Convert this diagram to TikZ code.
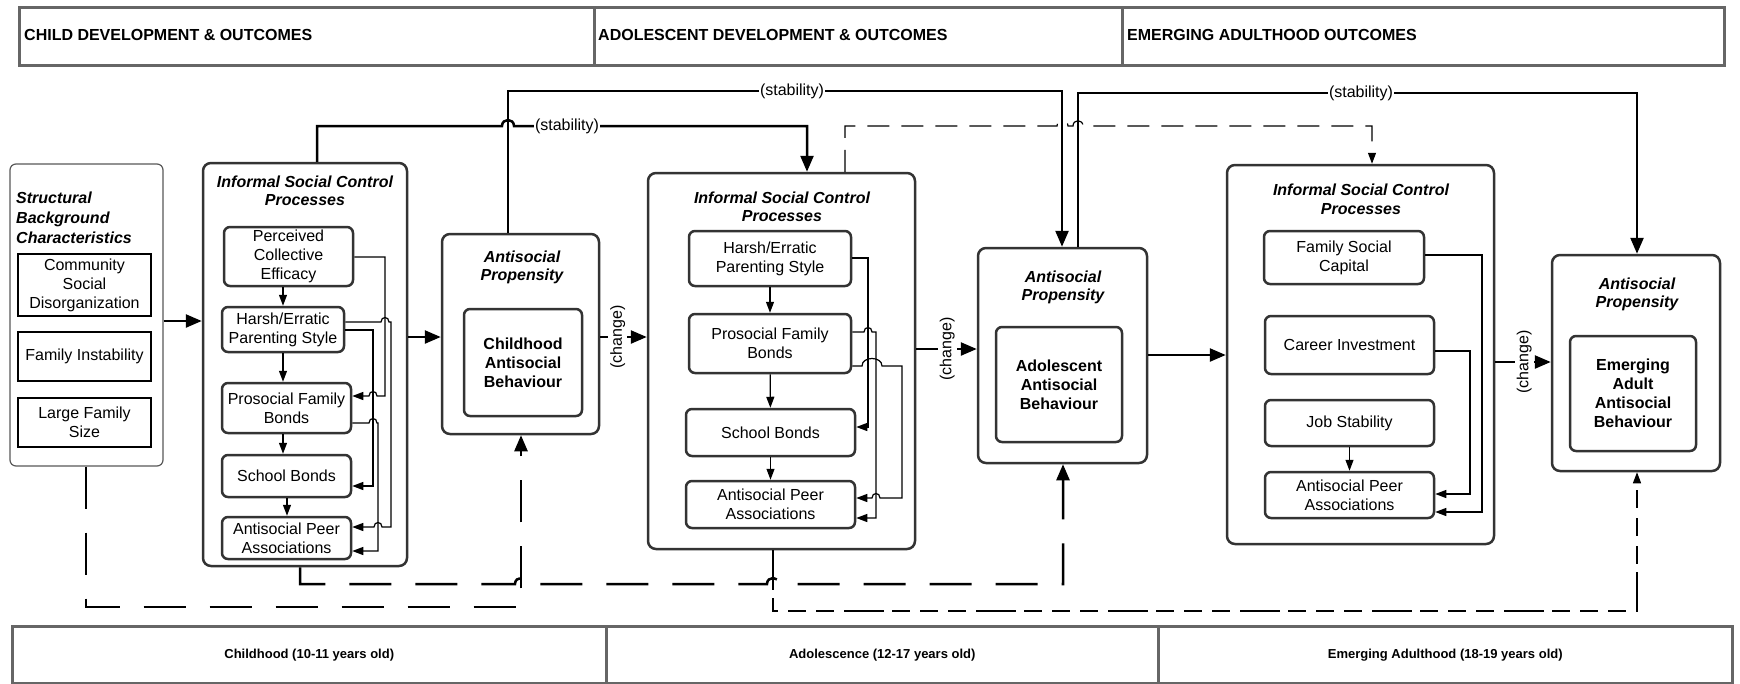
\documentclass[tikz,border=0pt]{standalone}
\usepackage{fontspec}
\setmainfont{Liberation Sans}
\usetikzlibrary{arrows.meta}
\definecolor{bx}{HTML}{333333}
\definecolor{hdr}{HTML}{666666}
\newcommand\myfs{\fontsize{16}{19}\selectfont}
\newcommand\tfs{\fontsize{16}{18.5}\selectfont\bfseries\itshape}
\newcommand\hfs{\fontsize{16}{19}\selectfont\bfseries}
\newcommand\ffs{\fontsize{13}{16}\selectfont\bfseries}
\begin{document}
\begin{tikzpicture}[x=1pt,y=-1pt,
  cell/.style={draw=hdr, line width=2.5pt, inner sep=0pt, anchor=north west},
  outer/.style={draw=bx, line width=2.5pt, rounded corners=8pt, inner sep=0pt},
  inner/.style={draw=bx, line width=2.5pt, rounded corners=6pt, inner sep=0pt, align=center, font=\myfs},
  sbox/.style={draw=black, line width=2.5pt, inner sep=0pt, align=center, font=\myfs},
  ttl/.style={align=center, font=\tfs, inner sep=0pt},
  thk/.style={line width=2.5pt, -{Triangle[length=16pt,width=13pt]}},
  thn/.style={line width=1.2pt, -{Triangle[length=11pt,width=8pt]}},
  dsh/.style={line width=2.5pt, dash pattern=on 42pt off 24pt, -{Triangle[length=16pt,width=13pt]}},
  dshn/.style={line width=1.2pt, dash pattern=on 22pt off 12pt, -{Triangle[length=11pt,width=8pt]}},
  lbl/.style={fill=white, font=\myfs, inner sep=1pt},
]
\fill[white] (0,0) rectangle (1740,683);
\useasboundingbox (0,0) rectangle (1740,683);

% header
\node[cell, minimum width=575pt, minimum height=58pt] (h1) at (18,6) {};
\node[cell, minimum width=528pt, minimum height=58pt] (h2) at (593,6) {};
\node[cell, minimum width=602pt, minimum height=58pt] (h3) at (1121,6) {};
\node[font=\hfs, anchor=west, inner sep=0pt] (h1t) at (24,35) {CHILD DEVELOPMENT \& OUTCOMES};
\node[font=\hfs, anchor=west, inner sep=0pt] (h2t) at (598,35) {ADOLESCENT DEVELOPMENT \& OUTCOMES};
\node[font=\hfs, anchor=west, inner sep=0pt] (h3t) at (1127,35) {EMERGING ADULTHOOD OUTCOMES};

% footer
\node[cell, minimum width=594pt, minimum height=57pt, font=\ffs] (f1) at (11,625) {Childhood (10-11 years old)};
\node[cell, minimum width=552pt, minimum height=57pt, font=\ffs] (f2) at (605,625) {Adolescence (12-17 years old)};
\node[cell, minimum width=574pt, minimum height=57pt, font=\ffs] (f3) at (1157,625) {Emerging Adulthood (18-19 years old)};

% structural
\node[draw=gray!70!black, line width=1.2pt, rounded corners=6pt, inner sep=0pt, minimum width=153pt, minimum height=302pt] (struct) at (86.5,315) {};
\node[ttl, anchor=west, align=left, font=\fontsize{16}{20}\selectfont\bfseries\itshape] (structt) at (16,218) {Structural\\Background\\Characteristics};
\node[sbox, minimum width=133pt, minimum height=62pt] (comm) at (84.5,285) {Community\\Social\\Disorganization};
\node[sbox, minimum width=133pt, minimum height=49pt] (famins) at (84.5,356.5) {Family Instability};
\node[sbox, minimum width=133pt, minimum height=49pt] (large) at (84.5,422.5) {Large Family\\Size};

% child ISC
\node[outer, minimum width=204pt, minimum height=403pt] (isc1) at (305,364.5) {};
\node[ttl] (isc1t) at (305,191) {Informal Social Control\\Processes};
\node[inner, minimum width=129pt, minimum height=59pt] (pce) at (288.5,256.5) {Perceived\\Collective\\Efficacy};
\node[inner, minimum width=122pt, minimum height=45pt] (hp1) at (283,329.5) {Harsh/Erratic\\Parenting Style};
\node[inner, minimum width=129pt, minimum height=50pt] (pfb1) at (286.5,408) {Prosocial Family\\Bonds};
\node[inner, minimum width=129pt, minimum height=42pt] (sb1) at (286.5,476) {School Bonds};
\node[inner, minimum width=129pt, minimum height=42pt] (apa1) at (286.5,538) {Antisocial Peer\\Associations};

% child AP
\node[outer, minimum width=157pt, minimum height=200pt] (ap1) at (520.5,334) {};
\node[ttl] (ap1t) at (522,267.5) {Antisocial\\Propensity};
\node[inner, font=\myfs\bfseries, minimum width=118pt, minimum height=107pt] (cab) at (523,362.5) {Childhood\\Antisocial\\Behaviour};

% adolescent ISC
\node[outer, minimum width=267pt, minimum height=376pt] (isc2) at (781.5,361) {};
\node[ttl] (isc2t) at (782,207) {Informal Social Control\\Processes};
\node[inner, minimum width=162pt, minimum height=55pt] (hp2) at (770,258.5) {Harsh/Erratic\\Parenting Style};
\node[inner, minimum width=162pt, minimum height=59pt] (pfb2) at (770,343.5) {Prosocial Family\\Bonds};
\node[inner, minimum width=169pt, minimum height=47pt] (sb2) at (770.5,432.5) {School Bonds};
\node[inner, minimum width=169pt, minimum height=47pt] (apa2) at (770.5,504.5) {Antisocial Peer\\Associations};

% adolescent AP
\node[outer, minimum width=169pt, minimum height=215pt] (ap2) at (1062.5,355.5) {};
\node[ttl] (ap2t) at (1063,287.5) {Antisocial\\Propensity};
\node[inner, font=\myfs\bfseries, minimum width=126pt, minimum height=115pt] (aab) at (1059,384.5) {Adolescent\\Antisocial\\Behaviour};

% emerging ISC
\node[outer, minimum width=267pt, minimum height=379pt] (isc3) at (1360.5,354.5) {};
\node[ttl] (isc3t) at (1361,199.5) {Informal Social Control\\Processes};
\node[inner, minimum width=160pt, minimum height=53pt] (fsc) at (1344,257.5) {Family Social\\Capital};
\node[inner, minimum width=169pt, minimum height=58pt] (ci) at (1349.5,345) {Career Investment};
\node[inner, minimum width=169pt, minimum height=46pt] (js) at (1349.5,423) {Job Stability};
\node[inner, minimum width=169pt, minimum height=46pt] (apa3) at (1349.5,495) {Antisocial Peer\\Associations};

% emerging AP
\node[outer, minimum width=168pt, minimum height=216pt] (ap3) at (1636,363) {};
\node[ttl] (ap3t) at (1637,294.5) {Antisocial\\Propensity};
\node[inner, font=\myfs\bfseries, minimum width=126pt, minimum height=115pt] (eaab) at (1633,393.5) {Emerging\\Adult\\Antisocial\\Behaviour};

% main flow
\draw[thk] (struct.east |- 0,321) -- (isc1.west |- 0,321);
\draw[thk] (isc1.east |- 0,337) -- (ap1.west |- 0,337);
\draw[thk] (ap1.east |- 0,337) -- node[lbl, rotate=90, pos=0.375, inner sep=2pt] (c1) {(change)} (isc2.west |- 0,337);
\draw[thk] (isc2.east |- 0,349) -- node[lbl, rotate=90, pos=0.51, inner sep=2pt] (c2) {(change)} (ap2.west |- 0,349);
\draw[thk] (ap2.east |- 0,355) -- (isc3.west |- 0,355);
\draw[thk] (isc3.east |- 0,362) -- node[lbl, rotate=90, pos=0.52, inner sep=2pt] (c3) {(change)} (ap3.west |- 0,362);

% child ISC internal
\draw[thn] (pce.south -| 283,0) -- (hp1.north -| 283,0);
\draw[thn] (hp1.south -| 283,0) -- (pfb1.north -| 283,0);
\draw[thn] (pfb1.south -| 283,0) -- (sb1.north -| 283,0);
\draw[thn] (sb1.south -| 287,0) -- (apa1.north -| 287,0);
\draw[thn] (pce.east |- 0,257) -- (385,257) -- (385,396) -- (377,396) .. controls (377,390) and (369,390) .. (369,396) -- (pfb1.east |- 0,396);
\draw[thn] (hp1.east |- 0,322) -- (381,322) .. controls (381,316) and (389,316) .. (389,322) -- (391,322) -- (391,527) -- (382,527) .. controls (382,521) and (374,521) .. (374,527) -- (apa1.east |- 0,527);
\draw[thn] (hp1.east |- 0,330) -- (373,330) -- (373,486) -- (sb1.east |- 0,486);
\draw[thn] (pfb1.east |- 0,423) -- (369,423) .. controls (369,417) and (377,417) .. (377,423) -- (378,423) -- (378,551) -- (apa1.east |- 0,551);

% adolescent ISC internal
\draw[thn] (hp2) -- (pfb2);
\draw[thn] (pfb2) -- (sb2);
\draw[thn] (sb2) -- (apa2);
\draw[thn] (hp2.east |- 0,258) -- (868,258) -- (868,427) -- (sb2.east |- 0,427);
\draw[thn] (pfb2.east |- 0,332) -- (864,332) .. controls (864,326) and (872,326) .. (872,332) -- (876,332) -- (876,518) -- (apa2.east |- 0,518);
\draw[thn] (pfb2.east |- 0,366) -- (862,366) .. controls (862,356) and (882,356) .. (882,366) -- (902,366) -- (902,498) -- (880,498) .. controls (880,492) and (872,492) .. (872,498) -- (apa2.east |- 0,498);

% emerging ISC internal
\draw[thn] (js) -- (apa3);
\draw[thn] (fsc.east |- 0,255) -- (1482,255) -- (1482,512) -- (apa3.east |- 0,512);
\draw[thn] (ci.east |- 0,351) -- (1470,351) -- (1470,494) -- (apa3.east |- 0,494);

% stability
\draw[thk] (isc1.north -| 317,0) -- (317,126) -- (502,126) .. controls (502,118) and (514,118) .. (514,126) -- (807,126) -- (isc2.north -| 807,0);
\node[lbl] (s1) at (567,126) {(stability)};
\draw[thk] (ap1.north -| 508,0) -- (508,91) -- (1062,91) -- (ap2.north -| 1062,0);
\node[lbl] (s2) at (792,91) {(stability)};
\draw[thk] (ap2.north -| 1078,0) -- (1078,93) -- (1637,93) -- (ap3.north -| 1637,0);
\node[lbl] (s3) at (1361,93) {(stability)};

% dashed top
\draw[dshn] (isc2.north -| 845,0) -- (845,126) -- (1057,126) .. controls (1057,119) and (1068,119) .. (1068,126) -- (1073,126) .. controls (1073,119) and (1083,119) .. (1083,126) -- (1372,126) -- (isc3.north -| 1372,0);

% dashed bottom
\draw[dsh] (struct.south -| 86,0) -- (86,607) -- (521,607) -- (ap1.south -| 521,0);
\draw[dsh] (isc1.south -| 300,0) -- (300,584) -- (515,584) .. controls (515,576) and (527,576) .. (527,584) -- (767,584) .. controls (767,576) and (779,576) .. (779,584) -- (1063,584) -- (ap2.south -| 1063,0);
\draw[line width=1.2pt, dash pattern=on 40pt off 8pt on 18pt off 10pt on 18pt off 10pt on 18pt off 10pt, -{Triangle[length=11pt,width=8pt]}] (isc2.south -| 773,0) -- (773,611) -- (1637,611) -- (ap3.south -| 1637,0);
\end{tikzpicture}
\end{document}
